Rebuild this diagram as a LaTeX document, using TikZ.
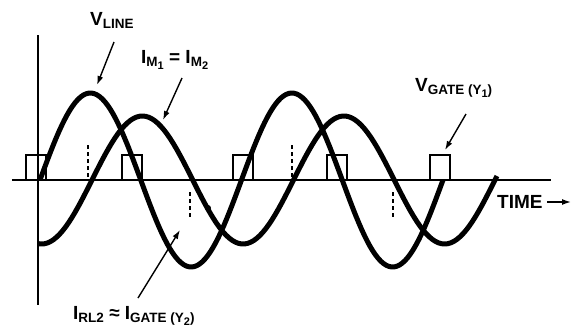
\documentclass[tikz,border=0pt]{standalone}
\usepackage{fontspec}
\setmainfont{Liberation Sans}
\usetikzlibrary{arrows.meta}
\newcommand{\lo}[1]{\raisebox{-3.5pt}{\fontsize{13.5}{14}\selectfont #1}}
\newcommand{\llo}[1]{\raisebox{-3pt}{\fontsize{11}{12}\selectfont #1}}

\begin{document}
\begin{tikzpicture}[x=1pt,y=1pt,>={Latex[length=9pt,width=6pt]},
  lbl/.style={font=\bfseries\fontsize{19}{21}\selectfont,inner sep=0pt},
  wave/.style={line width=5pt,line join=round},
  gatebox/.style={line width=1.8pt},
  peakline/.style={line width=2.5pt,dash pattern=on 4pt off 3pt},
  callout/.style={->,line width=1.4pt}]
\useasboundingbox (-38,-153) rectangle (533,180);
% axes
\draw[line width=2pt] (0,145) -- (0,-125);
\draw[line width=2pt] (-26,0) -- (513,0);
% gate pulses
\foreach \a in {-12,84,195,289,392} \draw[gatebox] (\a,0) rectangle ++(20,25);
% line voltage and motor current
\draw[wave] plot[domain=2:405,samples=150] (\x,{87*sin((\x-2)/201.5*360)});
\draw[wave] plot[domain=0:459,samples=150] (\x,{64*sin((\x-54)/201.5*360)});
\fill (170,-28) circle (3);
% peak markers
\foreach \a in {50,254} \draw[peakline] (\a,3) -- (\a,35);
\foreach \a in {152,355} \draw[peakline] (\a,-12) -- (\a,-37);
% labels
\node[lbl,anchor=base west] (vline) at (52,155) {V\lo{LINE}};
\node[lbl,anchor=base west] (im) at (103,117) {I\lo{M\llo{1}} = I\lo{M\llo{2}}};
\node[lbl,anchor=base west] (vgate) at (377,89) {V\lo{GATE (Y\llo{1})}};
\node[lbl,anchor=base west] (irl) at (35,-139) {I\lo{RL2} ≈ I\lo{GATE (Y\llo{2})}};
\node[lbl,anchor=base west] (time) at (459,-28) {TIME};
% callouts
\coordinate (vline tail) at (76,138);  \coordinate (vline tip) at (59,95);
\coordinate (im tail) at (144,102);    \coordinate (im tip) at (125,60);
\coordinate (vgate tail) at (428,66);  \coordinate (vgate tip) at (407,30);
\coordinate (irl tail) at (100,-118);  \coordinate (irl tip) at (142,-50);
\coordinate (time tail) at (509,-22);  \coordinate (time tip) at (533,-22);
\draw[callout] (vline tail) -- (vline tip);
\draw[callout] (im tail) -- (im tip);
\draw[callout] (vgate tail) -- (vgate tip);
\draw[callout] (irl tail) -- (irl tip);
\draw[callout] (time tail) -- (time tip);
\end{tikzpicture}
\end{document}
